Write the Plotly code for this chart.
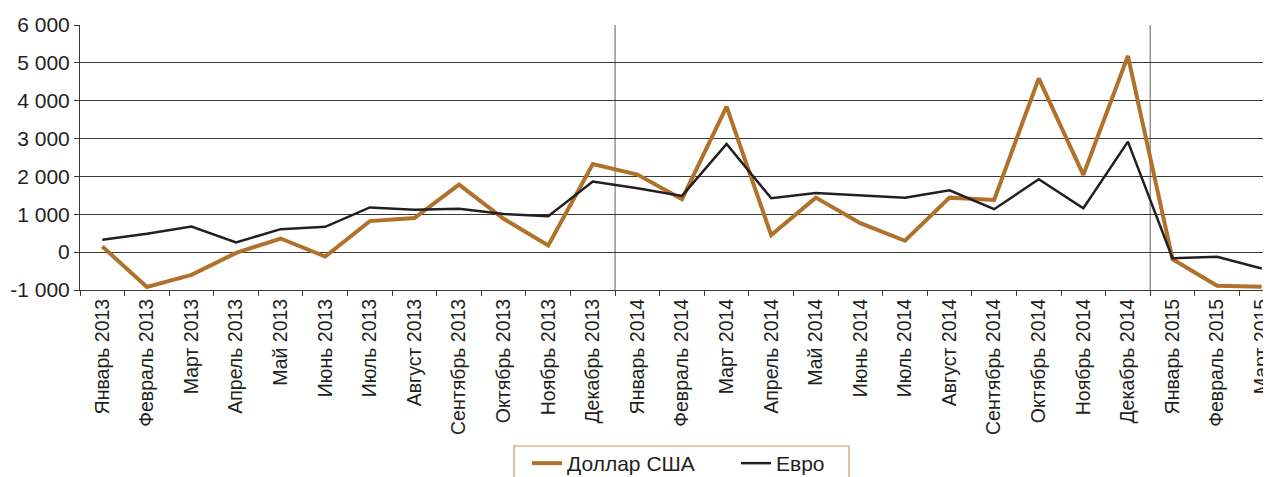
import plotly.graph_objects as go

months = ["Январь 2013", "Февраль 2013", "Март 2013", "Апрель 2013", "Май 2013", "Июнь 2013",
          "Июль 2013", "Август 2013", "Сентябрь 2013", "Октябрь 2013", "Ноябрь 2013", "Декабрь 2013",
          "Январь 2014", "Февраль 2014", "Март 2014", "Апрель 2014", "Май 2014", "Июнь 2014",
          "Июль 2014", "Август 2014", "Сентябрь 2014", "Октябрь 2014", "Ноябрь 2014", "Декабрь 2014",
          "Январь 2015", "Февраль 2015", "Март 2015"]

usd = [150, -920, -600, -20, 360, -115, 820, 900, 1785, 880, 175, 2330,
       2050, 1400, 3845, 450, 1440, 765, 300, 1440, 1380, 4590, 2040, 5180,
       -185, -890, -915]

eur = [325, 485, 677, 255, 607, 668, 1180, 1117, 1143, 1010, 950, 1865,
       1690, 1485, 2860, 1425, 1565, 1505, 1440, 1635, 1135, 1925, 1160, 2920,
       -160, -123, -430]

y_tickvals = [-1000, 0, 1000, 2000, 3000, 4000, 5000, 6000]
y_ticktext = ["-1 000", "0", "1 000", "2 000", "3 000", "4 000", "5 000", "6 000"]

year_breaks = [11.5, 23.5]

BROWN = "#b0722a"
DARK = "#231f20"
GRID = "#383838"
FONT = "Liberation Sans"

# page body has an 8px margin; compensate so the figure fills the 1271x477 window
PAGE_OFF = 8
W, H = 1271 - PAGE_OFF, 477 - PAGE_OFF
ML, MR, MT = 80 - PAGE_OFF, 0, 25 - PAGE_OFF
PLOT_H = 265
MB = H - MT - PLOT_H
PLOT_W = W - ML - MR

def px_x(ref_x):
    return (ref_x - 80) / PLOT_W

def px_y(ref_y):
    return (290 - ref_y) / PLOT_H

x_range = [-0.5, len(months) - 0.5 - 13 / 44.6]

fig = go.Figure()
fig.add_trace(go.Scatter(x=months, y=usd, mode="lines", name="Доллар США",
                         line=dict(color=BROWN, width=4)))
fig.add_trace(go.Scatter(x=months, y=eur, mode="lines", name="Евро",
                         line=dict(color=DARK, width=2.5)))

for b in year_breaks:
    fig.add_shape(type="line", xref="x", yref="paper", x0=b, x1=b, y0=0, y1=1,
                  line=dict(color="#7a7a7a", width=1.2), layer="below")

# legend frame
fig.add_shape(type="rect", xref="paper", yref="paper",
              x0=px_x(514), x1=px_x(849), y0=px_y(446), y1=px_y(500),
              line=dict(color="#c89a64", width=1.2), fillcolor="rgba(0,0,0,0)")

fig.update_layout(
    width=W, height=H,
    margin=dict(l=ML, r=MR, t=MT, b=MB, autoexpand=False),
    paper_bgcolor="white", plot_bgcolor="white",
    font=dict(family=FONT, color=DARK, size=18),
    showlegend=True,
    legend=dict(orientation="h", x=px_x(527), xanchor="left",
                y=px_y(443), yanchor="top",
                borderwidth=0, bgcolor="rgba(0,0,0,0)",
                font=dict(family=FONT, size=21, color=DARK),
                entrywidth=164, traceorder="normal"),
    xaxis=dict(type="category", categoryorder="array", categoryarray=months,
               range=x_range, showgrid=False, showline=True, linecolor=GRID, linewidth=1,
               ticks="outside", tickson="boundaries", ticklen=5, tickcolor=GRID,
               tickangle=-90, tickfont=dict(family=FONT, size=19.5, color=DARK),
               zeroline=False),
    xaxis2=dict(overlaying="x", anchor="free", position=1 / 7, range=x_range,
                tick0=-0.5, dtick=1, showticklabels=False, showgrid=False,
                showline=True, linecolor=GRID, linewidth=1, ticks="outside",
                ticklen=5, tickcolor=GRID, zeroline=False),
    yaxis=dict(range=[-1000, 6000], tickvals=y_tickvals, ticktext=y_ticktext,
               showgrid=True, gridcolor=GRID, gridwidth=1,
               showline=True, linecolor=GRID, linewidth=1,
               ticks="outside", ticklen=5, tickcolor=GRID,
               tickfont=dict(family=FONT, size=21, color=DARK), zeroline=False),
)

fig.write_html("out.html")
